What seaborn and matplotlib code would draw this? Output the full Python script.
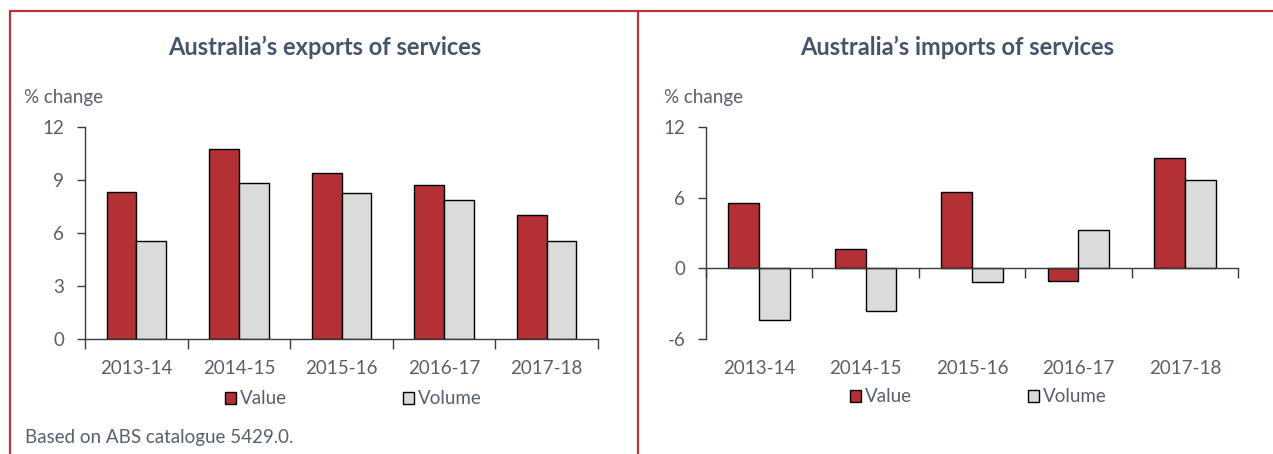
import matplotlib
matplotlib.use("Agg")
import matplotlib.pyplot as plt
from matplotlib.lines import Line2D
import seaborn as sns
import pandas as pd

# ---- data ----
years = ["2013-14", "2014-15", "2015-16", "2016-17", "2017-18"]
series = ["Value", "Volume"]
exports_value = [8.33, 10.74, 9.37, 8.71, 7.01]
exports_volume = [5.52, 8.82, 8.29, 7.88, 5.56]
imports_value = [5.57, 1.65, 6.47, -1.07, 9.36]
imports_volume = [-4.39, -3.60, -1.19, 3.23, 7.46]
export_yticks = [0, 3, 6, 9, 12]
import_yticks = [-6, 0, 6, 12]

colors = {"Value": "#B33035", "Volume": "#D9DCDB"}
RED = "#B8343A"
TXT = "#56606C"
TITLE = "#44546A"
AX = "#3a3a3a"

sns.set_theme(style="ticks")
plt.rcParams["font.family"] = ["Lato", "DejaVu Sans"]
plt.rcParams["axes.unicode_minus"] = False

def long_df(v, vol):
    return pd.DataFrame({
        "year": years * 2,
        "series": ["Value"] * len(years) + ["Volume"] * len(years),
        "pct": list(v) + list(vol),
    })

fig = plt.figure(figsize=(12.73, 4.54), dpi=100)
W, H = 1273, 454
axL = fig.add_axes([85 / W, 1 - 339 / H, (598 - 85) / W, (339 - 127) / H])
axR = fig.add_axes([706 / W, 1 - 339 / H, (1238 - 706) / W, (339 - 127) / H])

FS = 13.5

for ax, v, vol, yt in [(axL, exports_value, exports_volume, export_yticks),
                       (axR, imports_value, imports_volume, import_yticks)]:
    sns.barplot(data=long_df(v, vol), x="year", y="pct", hue="series",
                hue_order=series, palette=colors, width=0.58,
                edgecolor="black", linewidth=1.0, saturation=1,
                legend=False, ax=ax)
    ax.set_xlim(-0.5, len(years) - 0.5)
    ax.set_ylim(yt[0], yt[-1])
    ax.set_yticks(yt)
    ax.set_xlabel("")
    ax.set_ylabel("")
    ax.set_facecolor("none")
    for s in ["top", "right"]:
        ax.spines[s].set_visible(False)
    for s in ["left", "bottom"]:
        ax.spines[s].set_color(AX)
        ax.spines[s].set_linewidth(1.0)
    ax.tick_params(axis="y", direction="out", length=6, width=1.0, color=AX,
                   labelsize=FS, labelcolor=TXT, pad=9)
    ax.set_xticks([i - 0.5 for i in range(len(years) + 1)], minor=True)
    ax.tick_params(axis="x", which="minor", direction="out", length=7, width=1.0, color=AX)
    ax.set_xticks(range(len(years)))
    ax.legend(handles=ax.containers, labels=series, loc="center",
              ncol=2, frameon=False, fontsize=FS, handlelength=0.6,
              handleheight=0.6, handletextpad=0.2, columnspacing=6.2,
              labelcolor=TXT)

# left: labels on the bottom axis
axL.tick_params(axis="x", which="major", length=0, labelsize=FS, labelcolor=TXT, pad=15)
axL.get_legend().set_bbox_to_anchor((353 / W, 1 - 399 / H), transform=fig.transFigure)

# right: axis line at zero, labels at bottom
axR.spines["bottom"].set_position(("data", 0))
axR.tick_params(axis="x", which="major", length=0, labelbottom=False)
sec = axR.secondary_xaxis("bottom")
sec.set_xticks(range(len(years)))
sec.set_xticklabels(years)
sec.tick_params(axis="x", length=0, labelsize=FS, labelcolor=TXT, pad=15)
sec.spines["bottom"].set_visible(False)
axR.get_legend().set_bbox_to_anchor((978 / W, 1 - 397 / H), transform=fig.transFigure)

# texts
fig.text(324.5 / W, 1 - 47 / H, "Australia\u2019s exports of services", ha="center",
         va="center", fontsize=17, fontweight="bold", color=TITLE)
fig.text(957 / W, 1 - 47 / H, "Australia\u2019s imports of services", ha="center",
         va="center", fontsize=17, fontweight="bold", color=TITLE)
fig.text(24 / W, 1 - 97 / H, "% change", ha="left", va="center", fontsize=FS, color=TXT)
fig.text(664 / W, 1 - 97 / H, "% change", ha="left", va="center", fontsize=FS, color=TXT)
fig.text(25 / W, 1 - 438 / H, "Based on ABS catalogue 5429.0.", ha="left",
         va="center", fontsize=FS, color=TXT)

# red panel borders
for xy in [([10 / W, 1.0], [1 - 11 / H, 1 - 11 / H]),
           ([10 / W, 10 / W], [1 - 11 / H, 0.0]),
           ([638 / W, 638 / W], [1 - 11 / H, 0.0])]:
    fig.add_artist(Line2D(xy[0], xy[1], transform=fig.transFigure, color=RED, lw=1.6))

fig.savefig("out.png", dpi=100)
